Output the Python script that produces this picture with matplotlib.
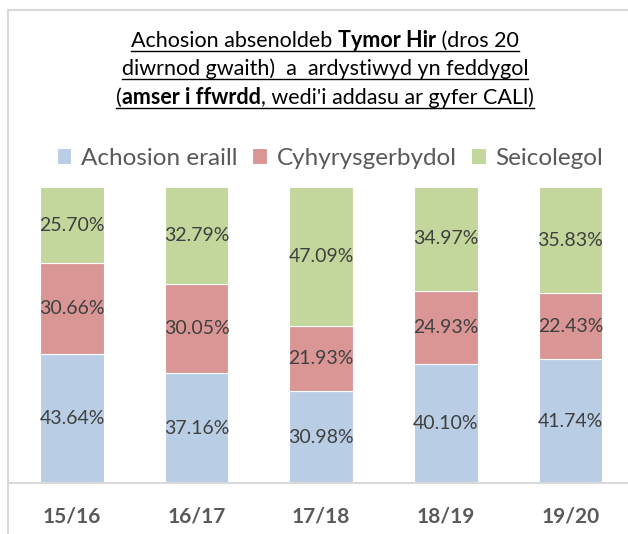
import numpy as np
import matplotlib
matplotlib.use('Agg')
import matplotlib.pyplot as plt
from matplotlib.patches import Rectangle
from matplotlib.lines import Line2D

plt.rcParams['font.family'] = ['Lato', 'DejaVu Sans']

# data
years = ['15/16', '16/17', '17/18', '18/19', '19/20']
series_names = ['Achosion eraill', 'Cyhyrysgerbydol', 'Seicolegol']
achosion = [43.64, 37.16, 30.98, 40.10, 41.74]
cyhyrysgerbydol = [30.66, 30.05, 21.93, 24.93, 22.43]
seicolegol = [25.70, 32.79, 47.09, 34.97, 35.83]
colors = ['#B9CDE5', '#D99694', '#C3D69B']

title_lines = [
    [('Achosion absenoldeb ', False), ('Tymor Hir', True), (' (dros 20', False)],
    [('diwrnod gwaith)  a  ardystiwyd yn feddygol', False)],
    [('(', False), ('amser i ffwrdd', True), (", wedi'i addasu ar gyfer CALl)", False)],
]

W, H = 628, 534
fig = plt.figure(figsize=(W / 100, H / 100), dpi=100)

# chart border (runs off the right and bottom edges)
fig.patches.append(Rectangle((8 / W, -0.1), 1.1, (H - 10) / H + 0.1, transform=fig.transFigure,
                             fill=False, edgecolor='#D9D9D9', linewidth=1.5))

ax = fig.add_axes([9.7 / W, 51 / H, 623 / W, 296 / H])
x = np.arange(len(years))
series = [achosion, cyhyrysgerbydol, seicolegol]
bottom = np.zeros(len(years))
for vals, col, name in zip(series, colors, series_names):
    vals = np.array(vals)
    ax.bar(x, vals, 0.51, bottom=bottom, color=col, edgecolor='white', linewidth=0.8, label=name)
    for xi, b, v in zip(x, bottom, vals):
        ax.text(xi, b + v / 2, f'{v:.2f}%', ha='center', va='center', fontsize=14, color='#404040')
    bottom += vals

ax.set_xlim(-0.5, len(years) - 0.5)
ax.set_ylim(0, 100)
ax.set_yticks([])
ax.set_xticks(x)
ax.set_xticklabels(years, fontsize=15, fontweight='bold', color='#595959')
ax.tick_params(axis='x', length=0, pad=17)
for s in ['top', 'right', 'left']:
    ax.spines[s].set_visible(False)
ax.spines['bottom'].set_color('#D9D9D9')
ax.spines['bottom'].set_linewidth(1.5)

leg = fig.legend(loc='center', bbox_to_anchor=(330 / W, 1 - 158 / H), ncol=3, frameon=False,
                 fontsize=17.5, handlelength=0.6, handleheight=0.6, handletextpad=0.4,
                 columnspacing=0.6, labelcolor='#595959')

# title with mixed bold/underline
fig.canvas.draw()
renderer = fig.canvas.get_renderer()
baselines = [47, 75, 104]
for segs, yb in zip(title_lines, baselines):
    widths = []
    for txt, bold in segs:
        t = fig.text(0, 0, txt, fontsize=15.5, fontweight='bold' if bold else 'normal')
        widths.append(t.get_window_extent(renderer).width)
        t.remove()
    total = sum(widths)
    xs = 325 - total / 2
    x0 = xs
    for (txt, bold), w in zip(segs, widths):
        fig.text(xs / W, 1 - yb / H, txt, fontsize=15.5, fontweight='bold' if bold else 'normal',
                 color='black', va='baseline', ha='left')
        xs += w
    fig.add_artist(Line2D([x0 / W, xs / W], [1 - (yb + 3.5) / H] * 2, transform=fig.transFigure,
                          color='black', linewidth=1.0))

fig.savefig('out.png', dpi=100)
